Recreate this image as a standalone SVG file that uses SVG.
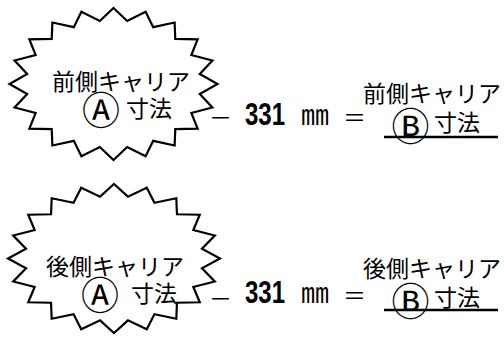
<svg xmlns="http://www.w3.org/2000/svg" xmlns:xlink="http://www.w3.org/1999/xlink" width="504" height="338" viewBox="0 0 504 338">
<style>
.star{fill:#fff;stroke:#000;stroke-width:2.2;stroke-linejoin:miter;vector-effect:non-scaling-stroke}
.jp{font-family:"Noto Sans CJK JP","Noto Sans CJK SC",sans-serif;font-size:23px;fill:#000}
.circ{font-size:38px}
.num{font-family:"Liberation Sans",Arial,sans-serif;font-weight:bold;font-size:31px;fill:#000}
.ul{stroke:#000;stroke-width:2.5}
</style>
<defs>
<polygon id="starShape" class="star" points="0,-100 13.14,-82.97 30.9,-95.11 38.14,-74.84 58.78,-80.9 59.4,-59.4 80.9,-58.78 74.84,-38.14 95.11,-30.9 82.97,-13.14 100,0 82.97,13.14 95.11,30.9 74.84,38.14 80.9,58.78 59.4,59.4 58.78,80.9 38.14,74.84 30.9,95.11 13.14,82.97 0,100 -13.14,82.97 -30.9,95.11 -38.14,74.84 -58.78,80.9 -59.4,59.4 -80.9,58.78 -74.84,38.14 -95.11,30.9 -82.97,13.14 -100,0 -82.97,-13.14 -95.11,-30.9 -74.84,-38.14 -80.9,-58.78 -59.4,-59.4 -58.78,-80.9 -38.14,-74.84 -30.9,-95.11 -13.14,-82.97"/>
</defs>

<g id="front-star">
<use xlink:href="#starShape" href="#starShape" transform="translate(113.5,84) scale(1.04,0.76)"/>
<text class="jp" x="52" y="90">前側キャリア</text>
<text class="jp"><tspan class="circ" x="82" y="123.5">Ⓐ </tspan><tspan x="126" y="116.5">寸法</tspan></text>
</g>

<g id="front-eq">
<text class="jp" x="209" y="126">－</text>
<text class="num" x="245" y="125" textLength="40" lengthAdjust="spacingAndGlyphs">331</text>
<text class="jp" x="301" y="125" style="font-size:28px">㎜</text>
<text class="jp" x="343" y="126">＝</text>
<text class="jp" x="363" y="101.5">前側キャリア</text>
<text class="jp"><tspan class="circ" x="391.5" y="139.5">Ⓑ </tspan><tspan x="434" y="130.5">寸法</tspan></text>
<line class="ul" x1="384" y1="137" x2="498" y2="137"/>
</g>

<g id="rear-star">
<use xlink:href="#starShape" href="#starShape" transform="translate(114,258.5) scale(1.06,0.745)"/>
<text class="jp" x="46" y="275">後側キャリア</text>
<text class="jp"><tspan class="circ" x="81" y="309">Ⓐ </tspan><tspan x="131" y="301.5">寸法</tspan></text>
</g>

<g id="rear-eq">
<text class="jp" x="209" y="307">－</text>
<text class="num" x="245" y="303" textLength="40" lengthAdjust="spacingAndGlyphs">331</text>
<text class="jp" x="301" y="303" style="font-size:28px">㎜</text>
<text class="jp" x="343" y="304">＝</text>
<text class="jp" x="363" y="276.5">後側キャリア</text>
<text class="jp"><tspan class="circ" x="391.5" y="314.5">Ⓑ </tspan><tspan x="434" y="305.5">寸法</tspan></text>
<line class="ul" x1="384" y1="310" x2="498" y2="310"/>
</g>

<g id="connectors"></g>
</svg>
